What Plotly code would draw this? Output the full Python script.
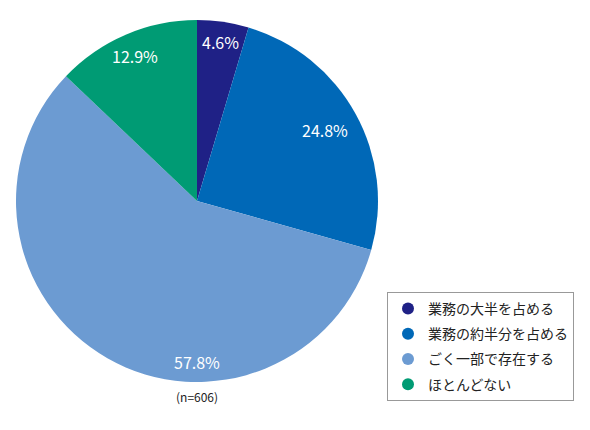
import numpy as np
import plotly.graph_objects as go

# data
labels = ["業務の大半を占める", "業務の約半分を占める", "ごく一部で存在する", "ほとんどない"]
values = [4.6, 24.8, 57.8, 12.9]
colors = ["#1f2186", "#0068b7", "#6c9bd2", "#009b74"]
n_note = "(n=606)"

# page body adds an 8px margin, so work in window pixels and shift back
OFF = 8
W, H = 590 - OFF, 430 - OFF
px0, py0, dia = 16 - OFF, 20 - OFF, 362
label_r = [0.89, 0.81, 0.89, 0.87]   # radial position of the % labels
label_angle = {2: 180.0}               # big slice label pushed to the bottom

fig = go.Figure()
fig.add_trace(
    go.Pie(
        labels=labels
        ,values=values
        ,sort=False
        ,direction='clockwise'
        ,rotation=0
        ,marker=dict(colors=colors, line=dict(width=0))
        ,textinfo='none'
        ,hoverinfo='label+value'
        ,showlegend=False
        ,domain=dict(x=[px0/W, (px0+dia)/W], y=[1-(py0+dia)/H, 1-py0/H])
        )
    )

# legend with round markers
for i, (lab, col) in enumerate(zip(labels, colors)):
    fig.add_trace(
        go.Scatter(
            x=[None], y=[None]
            ,mode='markers'
            ,marker=dict(symbol='circle', size=12, color=col)
            ,name=lab
            ,legendgroup='g{}'.format(i)
            )
        )

# percentage labels
cx = px0 + dia/2
cy = py0 + dia/2
rad = dia/2
total = sum(values)
cum = 0
for i, v in enumerate(values):
    mid = (cum + v/2)/total*360
    cum += v
    ang = np.radians(label_angle.get(i, mid))
    x = cx + label_r[i]*rad*np.sin(ang)
    y = cy - label_r[i]*rad*np.cos(ang)
    fig.add_annotation(
        x=x/W, y=1-y/H, xref='paper', yref='paper'
        ,xanchor='center', yanchor='middle'
        ,text='{}%'.format(v), showarrow=False
        ,font=dict(size=16, color='white', family='Noto Sans CJK JP')
        )

fig.add_annotation(
    x=cx/W, y=1-(396-OFF)/H, xref='paper', yref='paper'
    ,xanchor='center', yanchor='middle'
    ,text=n_note, showarrow=False
    ,font=dict(size=12, color='#222', family='Noto Sans CJK JP')
    )

fig.update_layout(
    width=W, height=H
    ,margin=dict(l=0, r=0, t=0, b=0)
    ,paper_bgcolor='white', plot_bgcolor='white'
    ,xaxis=dict(visible=False), yaxis=dict(visible=False)
    ,font=dict(family='Noto Sans CJK JP', color='#222')
    ,legend=dict(
        x=(387-OFF)/W, y=1-(292-OFF)/H, xanchor='left', yanchor='top'
        ,bordercolor='#999', borderwidth=1
        ,tracegroupgap=4
        ,font=dict(size=14, color='#222')
        )
    )

fig.write_html("out.html")
